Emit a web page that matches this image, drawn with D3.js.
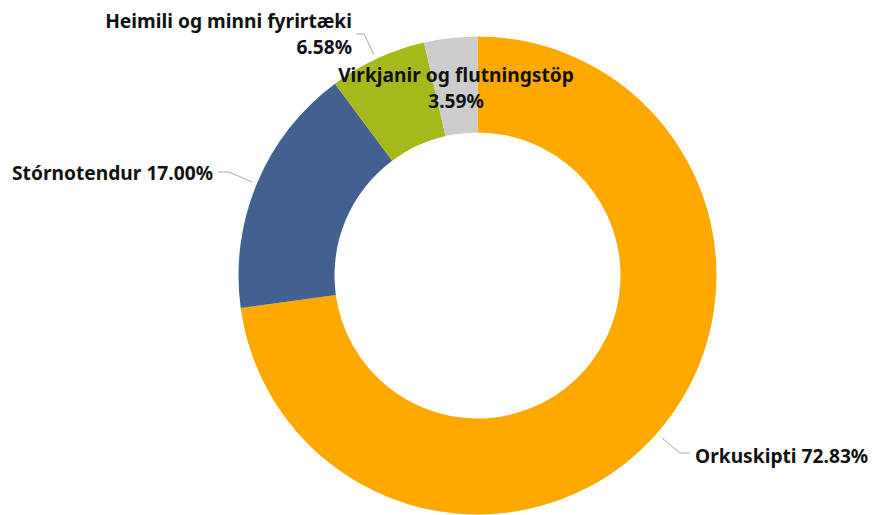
<!DOCTYPE html>
<html><head><meta charset="utf-8">
<script src="https://cdn.jsdelivr.net/npm/d3@7"></script>
<style>body{margin:0;background:#fff}text{font-family:"Noto Sans",sans-serif;font-weight:bold;fill:#111}</style>
</head><body>
<svg id="c" width="873" height="515"></svg>
<script>
const categories = ["Orkuskipti","Stórnotendur","Heimili og minni fyrirtæki","Virkjanir og flutningstöp"];
const values = [72.83, 17.00, 6.58, 3.59];
const colors = ["#FFA800","#436190","#A5BA1A","#CCCCCC"];
const data = categories.map((c,i)=>({name:c,value:values[i],color:colors[i]}));
const fmt = v => d3.format(".2f")(v)+"%";

const svg = d3.select("#c");
const cx = 477.5, cy = 275.5, R = 239, r = 143;
const g = svg.append("g").attr("transform",`translate(${cx},${cy})`);
const pie = d3.pie().value(d=>d.value).sort(null);
const arc = d3.arc().innerRadius(r).outerRadius(R);
const arcs = pie(data);
g.selectAll("path").data(arcs).join("path").attr("d",arc).attr("fill",d=>d.data.color);

const fs = 19.2;
const lineColor = "#a6a6a6";
function leader(pts){
  svg.append("path").attr("d",d3.line()(pts)).attr("fill","none").attr("stroke",lineColor).attr("stroke-width",1);
}
// Orkuskipti
leader([[662,438],[680,453],[690,453]]);
svg.append("text").attr("x",695).attr("y",463).attr("font-size",fs).text(`${categories[0]} ${fmt(values[0])}`);
// Stórnotendur
leader([[218,172],[229,172],[252,182]]);
svg.append("text").attr("x",213).attr("y",180).attr("text-anchor","end").attr("font-size",fs).text(`${categories[1]} ${fmt(values[1])}`);
// Heimili
leader([[356,34],[364,34],[374,55]]);
svg.append("text").attr("x",352).attr("y",28).attr("text-anchor","end").attr("font-size",fs).text(categories[2]);
svg.append("text").attr("x",352).attr("y",54).attr("text-anchor","end").attr("font-size",fs).text(fmt(values[2]));
// Virkjanir
svg.append("text").attr("x",456).attr("y",82).attr("text-anchor","middle").attr("font-size",fs).text(categories[3]);
svg.append("text").attr("x",456).attr("y",108).attr("text-anchor","middle").attr("font-size",fs).text(fmt(values[3]));
</script>
</body></html>
